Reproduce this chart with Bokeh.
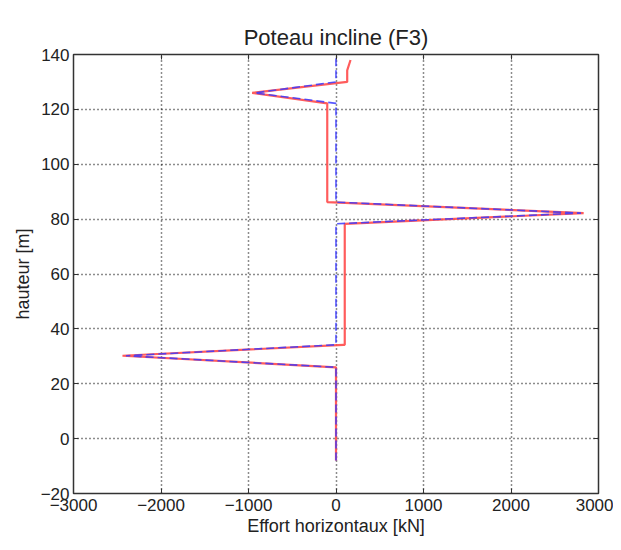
from bokeh.plotting import figure
from bokeh.models import Range1d, LinearAxis, FixedTicker
from bokeh.embed import file_html
from bokeh.resources import INLINE

# Data (kN, m)
red_x = [0, 0, -2440, 85, 100, 100, 2830, -100, -100, -958, 128, 128, 166]
red_h = [-8, 26, 30.2, 34.2, 34.2, 78.3, 82.2, 86.2, 122.2, 126, 130, 134.2, 138]
blue_x = [0, 0, -2400, 0, 0, 2800, 0, 0, -930, 0, 0]
blue_h = [-8, 26, 30.2, 34.2, 78.3, 82.2, 86.2, 122.2, 126, 130, 140]
x_ticks = [-3000, -2000, -1000, 0, 1000, 2000, 3000]
y_ticks = [-20, 0, 20, 40, 60, 80, 100, 120, 140]

FONT = "Liberation Sans"

p = figure(width=613, height=545, output_backend="svg", toolbar_location=None,
           x_range=Range1d(-3000, 3000), y_range=Range1d(-20, 140),
           min_border_left=73, min_border_right=15, min_border_top=54, min_border_bottom=52,
           title="Poteau incline (F3)")
p.title.align = "center"
p.title.text_font = FONT
p.title.text_font_size = "22px"
p.title.text_font_style = "normal"
p.title.text_color = "#222222"

p.outline_line_color = "#333333"
p.outline_line_width = 1.5
p.background_fill_color = "white"
p.border_fill_color = "white"

for ax in (p.xaxis[0], p.yaxis[0]):
    ax.major_tick_in = 5
    ax.major_tick_out = 0
    ax.minor_tick_in = 0
    ax.minor_tick_out = 0
    ax.axis_line_color = "#333333"
    ax.major_tick_line_color = "#333333"
    ax.major_label_text_font = FONT
    ax.major_label_text_font_size = "17px"
    ax.major_label_text_color = "#222222"
    ax.axis_label_text_font = FONT
    ax.axis_label_text_font_size = "18px"
    ax.axis_label_text_font_style = "normal"
    ax.axis_label_text_color = "#222222"

p.xaxis[0].ticker = FixedTicker(ticks=x_ticks)
p.yaxis[0].ticker = FixedTicker(ticks=y_ticks)
p.xaxis[0].axis_label = "Effort horizontaux [kN]"
p.yaxis[0].axis_label = "hauteur [m]"
p.xaxis[0].major_label_overrides = {t: str(t).replace("-", "\u2212") for t in x_ticks}
p.yaxis[0].major_label_overrides = {t: str(t).replace("-", "\u2212") for t in y_ticks}
p.xaxis[0].major_label_standoff = 5
p.yaxis[0].major_label_standoff = 4
p.xaxis[0].axis_label_standoff = 2

for ax, loc, ticks in ((LinearAxis(), "above", x_ticks),
                       (LinearAxis(), "right", y_ticks)):
    ax.ticker = FixedTicker(ticks=ticks)
    ax.major_label_overrides = {t: "" for t in ticks}
    ax.major_tick_in = 5
    ax.major_tick_out = 0
    ax.minor_tick_in = 0
    ax.minor_tick_out = 0
    ax.major_label_standoff = 0
    ax.axis_line_color = "#333333"
    ax.major_tick_line_color = "#333333"
    p.add_layout(ax, loc)

p.xgrid.ticker = FixedTicker(ticks=x_ticks)
p.ygrid.ticker = FixedTicker(ticks=y_ticks)
p.grid.grid_line_color = "black"
p.grid.grid_line_dash = "1 3"
p.grid.grid_line_width = 1.5
p.grid.grid_line_alpha = 0.9

p.line(red_x, red_h, line_color="#ff4a4a", line_width=2.2, line_alpha=0.9)
p.line(blue_x, blue_h, line_color="#3a3aff", line_width=1.6, line_dash="8 4", line_alpha=0.85)

open("out.html", "w").write(file_html(p, INLINE))
